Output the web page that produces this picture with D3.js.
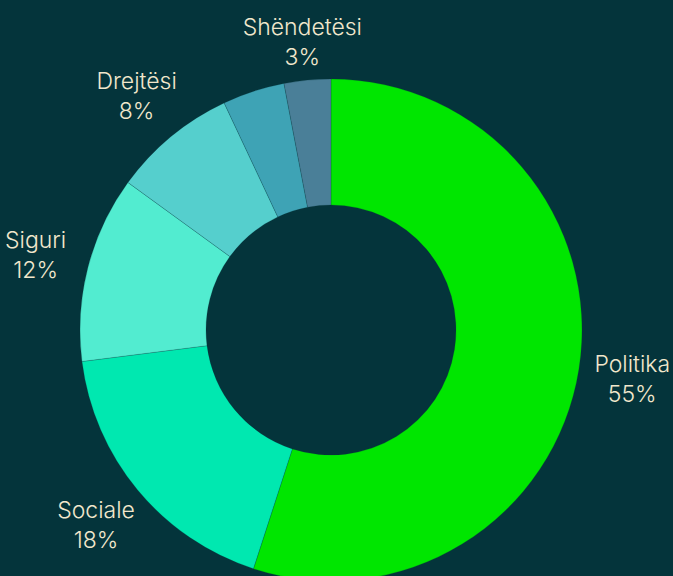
<!DOCTYPE html>
<html>
<head>
<meta charset="utf-8">
<script src="https://d3js.org/d3.v7.min.js"></script>
<style>
  html, body { margin: 0; padding: 0; background: #04343b; }
  .chart text { font-family: Inter, "Open Sans", sans-serif; font-size: 23px; font-weight: 300; fill: #f1e7cc; }
</style>
</head>
<body>
<svg class="chart"></svg>
<script>
var width = 673;
var height = 576;

// slices, clockwise from the top
var categories = ["Politika", "Sociale", "Siguri", "Drejtësi", "", "Shëndetësi"];
var values = [55, 18, 12, 8, 4, 3];
var colors = ["#00e600", "#00e8b0", "#52ecd0", "#55cfcd", "#3ea3b5", "#4a7f98"];

var cx = 331, cy = 330;
var outer = 251, inner = 125, labelR = 305;

var data = categories.map(function(c, i) { return { name: c, value: values[i], color: colors[i] }; });

var svg = d3.select(".chart")
    .attr("width", width)
    .attr("height", height);

var g = svg.append("g")
    .attr("transform", "translate(" + cx + "," + cy + ")");

var pie = d3.pie()
    .sort(null)
    .value(function(d) { return d.value; });

var arc = d3.arc()
    .innerRadius(inner)
    .outerRadius(outer);

var arcs = pie(data);

g.selectAll("path")
    .data(arcs)
    .enter().append("path")
    .attr("d", arc)
    .attr("fill", function(d) { return d.data.color; })
    .attr("stroke", "#04343b")
    .attr("stroke-opacity", 0.35)
    .attr("stroke-width", 0.6);

var labelArc = d3.arc().innerRadius(labelR).outerRadius(labelR);

var labels = g.selectAll("text")
    .data(arcs.filter(function(d) { return d.data.name; }))
    .enter().append("text")
    .attr("text-anchor", "middle")
    .attr("transform", function(d) {
        var p = labelArc.centroid(d);
        // keep the label block inside the picture
        var y = Math.max(p[1], 41 - cy);
        return "translate(" + p[0] + "," + y + ")";
    });

labels.append("tspan")
    .attr("x", 0)
    .attr("y", -6)
    .text(function(d) { return d.data.name; });

labels.append("tspan")
    .attr("x", 0)
    .attr("y", 24)
    .text(function(d) { return d.data.value + "%"; });
</script>
</body>
</html>
